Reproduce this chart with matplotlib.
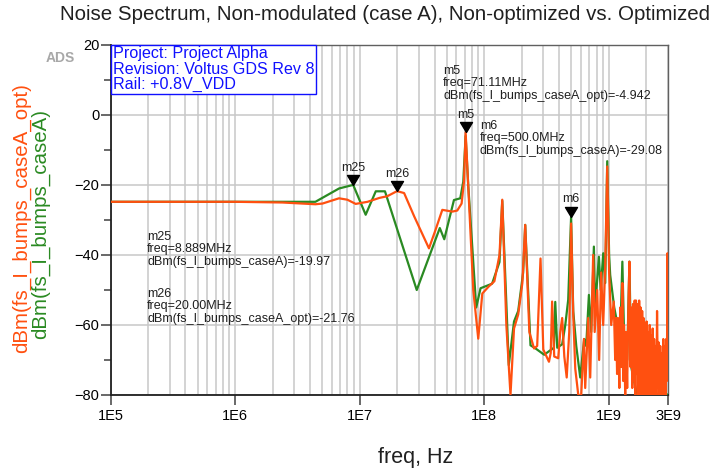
import matplotlib
matplotlib.use("Agg")
import matplotlib.pyplot as plt
from matplotlib.ticker import LogLocator, MultipleLocator, NullFormatter

plt.rcParams['font.family'] = ['Liberation Sans', 'DejaVu Sans']

W, H = 717, 472

# trace values (freq in Hz, dBm)
freq_caseA = [1e5, 3e5, 1e6, 2e6, 4.42e6, 6.84e6, 8.889e6, 1.12e7, 1.35e7, 1.60e7,
              2.88e7, 4.41e7, 4.79e7, 5.73e7, 6.44e7, 6.81e7, 7.11e7, 7.46e7, 8.65e7, 9.37e7,
              1.16e8, 1.33e8, 1.40e8, 1.58e8, 1.74e8, 1.88e8, 2.06e8, 2.14e8, 2.36e8, 2.59e8,
              3.04e8, 3.32e8, 3.64e8, 3.73e8, 3.87e8, 4.24e8, 4.49e8, 4.74e8, 5.0e8, 5.20e8,
              5.50e8, 5.92e8, 6.37e8, 6.61e8, 6.95e8, 7.25e8, 7.62e8, 7.80e8, 8.36e8, 8.64e8,
              9.06e8, 9.40e8, 9.75e8, 1.01e9, 1.03e9, 1.11e9, 1.24e9, 1.29e9, 1.33e9, 1.41e9,
              1.47e9, 1.52e9, 1.60e9, 1.70e9, 1.86e9, 1.97e9, 2.10e9, 2.26e9, 2.45e9, 2.70e9, 3.0e9]
dbm_caseA = [-24.8, -24.8, -24.8, -24.8, -24.8, -21.0, -19.97, -28.5, -21.8, -21.8,
             -50.0, -32.3, -35.5, -24.3, -23.8, -19.0, -6.0, -20.0, -55.0, -49.5,
             -48.2, -42.0, -24.5, -71.5, -59.0, -56.0, -45.0, -31.4, -65.8, -66.7,
             -68.5, -67.5, -66.5, -53.4, -66.5, -65.5, -60.0, -52.8, -29.08, -56.0,
             -66.0, -75.0, -64.0, -66.0, -51.4, -62.0, -37.6, -55.0, -40.5, -50.0,
             -39.5, -48.0, -13.2, -40.0, -45.7, -55.0, -63.9, -41.9, -62.0, -70.0,
             -41.9, -72.0, -76.0, -80.0, -78.0, -76.0, -80.0, -78.0, -80.0, -79.0, -80.0]

freq_opt = [1e5, 1e6, 2.4e6, 4.42e6, 5.04e6, 6.84e6, 7.98e6, 9.31e6, 1.16e7, 1.44e7,
            1.67e7, 2.0e7, 2.28e7, 2.75e7, 3.61e7, 4.06e7, 4.62e7, 5.56e7, 6.09e7, 6.60e7,
            6.90e7, 7.111e7, 7.57e7, 8.19e7, 8.98e7, 9.68e7, 1.09e8, 1.21e8, 1.33e8, 1.40e8,
            1.51e8, 1.63e8, 1.74e8, 1.88e8, 2.03e8, 2.14e8, 2.31e8, 2.52e8, 2.67e8, 2.84e8,
            2.99e8, 3.32e8, 3.43e8, 3.52e8, 3.66e8, 3.94e8, 4.09e8, 4.24e8, 4.41e8, 4.61e8,
            4.83e8, 5.0e8, 5.20e8, 5.40e8, 5.71e8, 6.03e8, 6.34e8, 6.49e8, 6.86e8, 7.12e8,
            7.52e8, 7.73e8, 8.10e8, 8.40e8, 8.71e8, 9.05e8, 9.38e8, 9.75e8, 1.01e9, 1.05e9,
            1.10e9, 1.13e9, 1.15e9, 1.17e9, 1.19e9, 1.22e9, 1.24e9, 1.27e9, 1.29e9, 1.31e9,
            1.33e9, 1.36e9, 1.38e9, 1.41e9, 1.44e9, 1.47e9, 1.50e9, 1.52e9, 1.55e9, 1.57e9,
            1.60e9, 1.62e9, 1.64e9, 1.66e9, 1.69e9, 1.71e9, 1.74e9, 1.76e9, 1.79e9, 1.81e9,
            1.84e9, 1.86e9, 1.89e9, 1.91e9, 1.94e9, 1.97e9, 2.00e9, 2.02e9, 2.05e9, 2.08e9,
            2.11e9, 2.14e9, 2.17e9, 2.20e9, 2.23e9, 2.26e9, 2.29e9, 2.32e9, 2.36e9, 2.39e9,
            2.42e9, 2.45e9, 2.49e9, 2.53e9, 2.56e9, 2.60e9, 2.64e9, 2.67e9, 2.71e9, 2.75e9,
            2.79e9, 2.83e9, 2.87e9, 2.90e9, 2.94e9, 2.97e9, 3.00e9]
dbm_opt = [-24.8, -24.8, -25.0, -25.5, -25.3, -23.8, -24.2, -25.4, -24.8, -23.7,
           -23.2, -21.76, -22.3, -29.0, -38.1, -33.0, -27.1, -27.6, -27.3, -25.3,
           -19.0, -4.942, -25.0, -50.0, -63.9, -51.0, -49.0, -47.5, -40.0, -24.2,
           -60.0, -80.0, -61.0, -57.0, -48.0, -31.4, -62.0, -66.7, -66.0, -41.0,
           -67.0, -70.5, -68.0, -53.3, -69.0, -69.5, -62.0, -58.0, -69.0, -75.0,
           -62.0, -31.0, -57.0, -72.5, -80.0, -80.0, -64.0, -78.0, -58.0, -75.0,
           -40.0, -62.0, -50.0, -70.0, -45.0, -60.0, -44.0, -14.7, -45.0, -60.0,
           -53.3, -70.0, -58.0, -74.0, -58.0, -78.0, -55.0, -72.0, -48.0, -76.0,
           -60.0, -80.0, -62.0, -78.0, -56.0, -41.9, -72.0, -55.0, -78.0, -54.0,
           -76.0, -53.0, -80.0, -53.0, -74.0, -54.0, -80.0, -53.0, -70.0, -55.0,
           -80.0, -56.0, -72.0, -58.0, -80.0, -60.0, -76.0, -59.0, -80.0, -62.0,
           -75.0, -60.0, -80.0, -63.0, -78.0, -61.0, -80.0, -64.0, -77.0, -66.0,
           -80.0, -56.0, -78.0, -65.0, -80.0, -66.0, -79.0, -68.0, -80.0, -64.0,
           -78.0, -66.0, -80.0, -64.0, -76.0, -39.5, -62.0]

# markers: name, freq, value, readout trace name, readout freq text, readout value text
markers = [("m25", 8.889e6, -19.97, "dBm(fs_I_bumps_caseA)", "8.889MHz", "-19.97"),
           ("m26", 20.00e6, -21.76, "dBm(fs_I_bumps_caseA_opt)", "20.00MHz", "-21.76"),
           ("m5", 71.11e6, -4.942, "dBm(fs_I_bumps_caseA_opt)", "71.11MHz", "-4.942"),
           ("m6", 500.0e6, -29.08, "dBm(fs_I_bumps_caseA)", "500.0MHz", "-29.08")]
# readout block top-left positions in pixels
readout_pos = {"m25": (147, 231), "m26": (147, 288), "m5": (443, 65), "m6": (480, 120)}

green = '#2a8a22'
orange = '#ff5010'

fig = plt.figure(figsize=(W / 100, H / 100), dpi=100)
ax = fig.add_axes([110.5 / W, 1 - 395 / H, (668 - 110.5) / W, 350 / H])
ax.set_xscale('log')
ax.set_xlim(1e5, 3e9)
ax.set_ylim(-80, 20)

ax.plot(freq_caseA, dbm_caseA, color=green, lw=1.6, zorder=3)
ax.plot(freq_opt, dbm_opt, color=orange, lw=1.6, zorder=4)

# grid
ax.xaxis.set_minor_locator(LogLocator(base=10, subs=range(2, 10), numticks=20))
ax.xaxis.set_minor_formatter(NullFormatter())
ax.set_xticks([1e5, 1e6, 1e7, 1e8, 1e9, 3e9])
ax.set_xticklabels(['1E5', '1E6', '1E7', '1E8', '1E9', '3E9'])
ax.set_yticks([-80, -60, -40, -20, 0, 20])
ax.yaxis.set_minor_locator(MultipleLocator(10))
ax.grid(True, axis='x', which='both', color='#c8c8c8', lw=1.1)
ax.grid(True, axis='y', which='major', color='#c8c8c8', lw=1.1)
ax.set_axisbelow(True)
ax.tick_params(axis='x', which='major', direction='out', length=7, width=1.1,
               labelsize=10.5, pad=3, color='#404040')
ax.tick_params(axis='x', which='minor', length=0)
ax.tick_params(axis='y', which='major', direction='out', length=7, width=1.1,
               labelsize=10.5, pad=1, color='#404040')
ax.tick_params(axis='y', which='minor', direction='out', length=5, width=1.1, color='#404040')

for s in ['left', 'bottom']:
    ax.spines[s].set_color('#202020')
    ax.spines[s].set_linewidth(1.3)
for s in ['top', 'right']:
    ax.spines[s].set_color('#606060')
    ax.spines[s].set_linewidth(1.0)

# markers
tri = [(0, 0), (-1.2, 2), (1.2, 2), (0, 0)]
for name, f, v, trace, ftxt, vtxt in markers:
    ax.plot([f], [v], marker=tri, ms=14.4, color='black', ls='none', zorder=6)
    ax.annotate(name, (f, v), xytext=(0, 12.5), textcoords='offset points',
                ha='center', va='center', fontsize=9, color='#202020', zorder=7)
    px, py = readout_pos[name]
    fig.text(px / W, 1 - py / H, "%s\nfreq=%s\n%s=%s" % (name, ftxt, trace, vtxt),
             ha='left', va='top', fontsize=9, linespacing=1.05, color='#202020')

# project box
fig.text(113 / W, 1 - 46 / H, "Project: Project Alpha\nRevision: Voltus GDS Rev 8\nRail: +0.8V_VDD",
         ha='left', va='top', fontsize=11.6, color='#1010ff', linespacing=1.05,
         bbox=dict(boxstyle='square,pad=0.1', fc='white', ec='#1010ff', lw=1.0), zorder=8)

fig.text(60 / W, 1 - 58 / H, "ADS", ha='center', va='center', fontsize=10,
         color='#a8a8a8', weight='bold')

fig.text(385 / W, 1 - 14 / H,
         "Noise Spectrum, Non-modulated (case A), Non-optimized vs. Optimized",
         ha='center', va='center', fontsize=14.8, color='#202020')
fig.text(416 / W, 1 - 457 / H, "freq, Hz", ha='center', va='center',
         fontsize=15.5, color='#202020')
fig.text(22 / W, 1 - 218 / H, "dBm(fs_I_bumps_caseA_opt)", rotation=90, ha='center',
         va='center', fontsize=14.8, color=orange)
fig.text(41 / W, 1 - 224 / H, "dBm(fs_I_bumps_caseA)", rotation=90, ha='center',
         va='center', fontsize=14.8, color=green)

fig.savefig("out.png", dpi=100)
